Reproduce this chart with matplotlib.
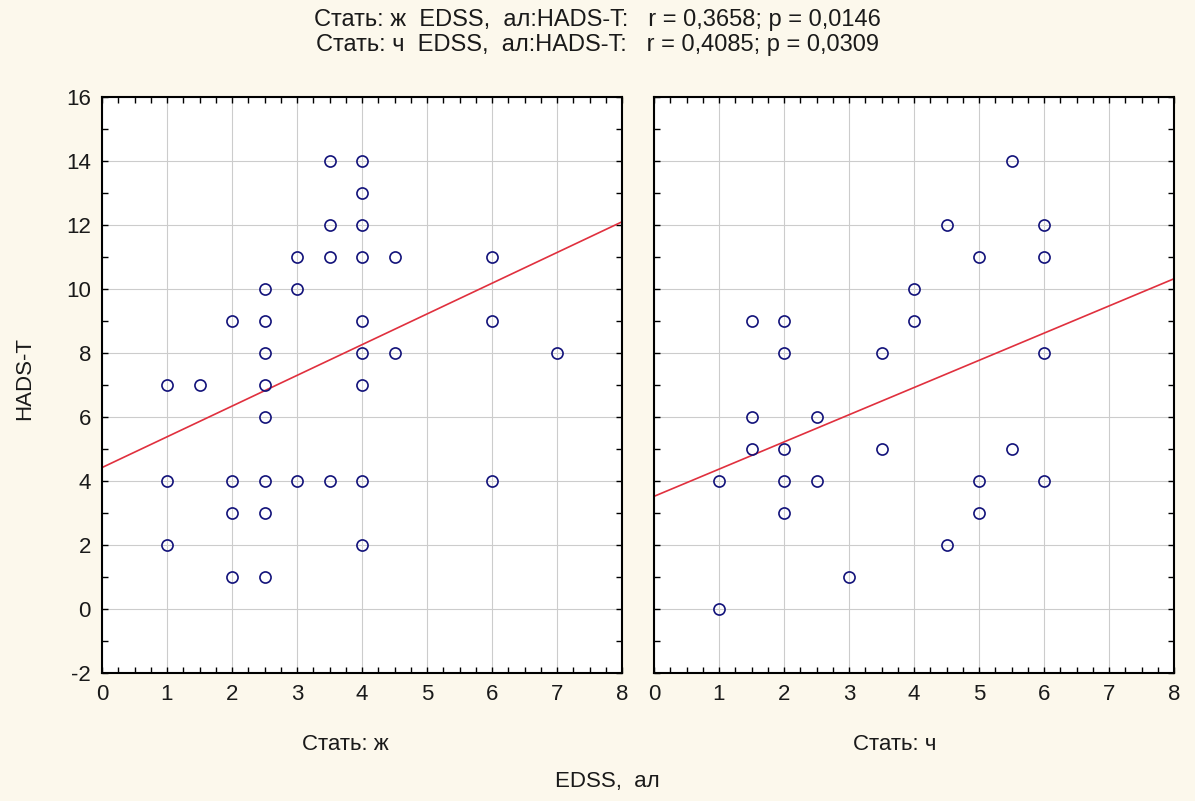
import numpy as np
import matplotlib.pyplot as plt
from matplotlib.ticker import MultipleLocator

plt.rcParams['font.family'] = ['Liberation Sans', 'DejaVu Sans']
plt.rcParams['axes.unicode_minus'] = False

# female panel (Стать: ж)
f_x = [3.5, 4, 4, 3.5, 4, 3, 3.5, 4, 4.5, 6, 2.5, 3, 2, 2.5, 4, 6, 2.5, 4, 4.5, 7,
       1, 1.5, 2.5, 4, 2.5, 1, 2, 2.5, 3, 3.5, 4, 6, 2, 2.5, 1, 4, 2, 2.5]
f_y = [14, 14, 13, 12, 12, 11, 11, 11, 11, 11, 10, 10, 9, 9, 9, 9, 8, 8, 8, 8,
       7, 7, 7, 7, 6, 4, 4, 4, 4, 4, 4, 4, 3, 3, 2, 2, 1, 1]
# male panel (Стать: ч)
m_x = [5.5, 4.5, 6, 5, 6, 4, 1.5, 2, 4, 2, 3.5, 6,
       1.5, 2.5, 1.5, 2, 3.5, 5.5, 1, 2, 2.5, 5, 6, 2, 5, 4.5, 3, 1]
m_y = [14, 12, 12, 11, 11, 10, 9, 9, 9, 8, 8, 8,
       6, 6, 5, 5, 5, 5, 4, 4, 4, 4, 4, 3, 3, 2, 1, 0]

# fitted lines: intercept, slope
f_fit = [4.42, 0.96]
m_fit = [3.52, 0.85]

titles = ['Стать: ж  EDSS,  ал:HADS-T:   r = 0,3658; p = 0,0146',
          'Стать: ч  EDSS,  ал:HADS-T:   r = 0,4085; p = 0,0309']
panel_labels = ['Стать: ж', 'Стать: ч']

bg = '#fcf8ec'
txt = '#1a1a1a'
fig = plt.figure(figsize=(11.95, 8.01), dpi=100, facecolor=bg)
W, H = 1195, 801
ax1 = fig.add_axes([102 / W, 1 - 673 / H, 520 / W, 576 / H])
ax2 = fig.add_axes([654 / W, 1 - 673 / H, 520 / W, 576 / H], sharey=ax1)

xs = np.array([0, 8])
for ax, x, y, fit in [(ax1, f_x, f_y, f_fit), (ax2, m_x, m_y, m_fit)]:
    ax.set_facecolor('white')
    ax.grid(True, color='#cccccc', lw=0.8, zorder=0)
    ax.plot(xs, fit[0] + fit[1] * xs, color='#e0303e', lw=1.2, zorder=2)
    ax.plot(x, y, 'o', mfc='none', mec='#12127a', mew=1.2, ms=8, zorder=3)
    ax.set_xlim(0, 8)
    ax.set_ylim(-2, 16)
    ax.xaxis.set_major_locator(MultipleLocator(1))
    ax.xaxis.set_minor_locator(MultipleLocator(0.25))
    ax.yaxis.set_major_locator(MultipleLocator(2))
    ax.yaxis.set_minor_locator(MultipleLocator(1))
    ax.tick_params(which='both', direction='in', top=True, right=True,
                   length=4, width=1, labelsize=16, pad=8, labelcolor=txt)
    for s in ax.spines.values():
        s.set_linewidth(1.5)

ax2.tick_params(labelleft=False)

fig.text(345 / W, 1 - 745 / H, panel_labels[0], ha='center', va='center',
         fontsize=16, color=txt)
fig.text(895 / W, 1 - 745 / H, panel_labels[1], ha='center', va='center',
         fontsize=16, color=txt)
fig.text(25 / W, 1 - 378 / H, 'HADS-T', rotation=90, ha='center', va='center',
         fontsize=16, color=txt)
fig.text(597 / W, 1 - 20 / H, titles[0], ha='center', va='center', fontsize=17, color=txt)
fig.text(597 / W, 1 - 45 / H, titles[1], ha='center', va='center', fontsize=17, color=txt)
fig.text(607 / W, 1 - 781 / H, 'EDSS,  ал', ha='center', va='center', fontsize=16, color=txt)

fig.savefig('out.png', dpi=100, facecolor=bg)
